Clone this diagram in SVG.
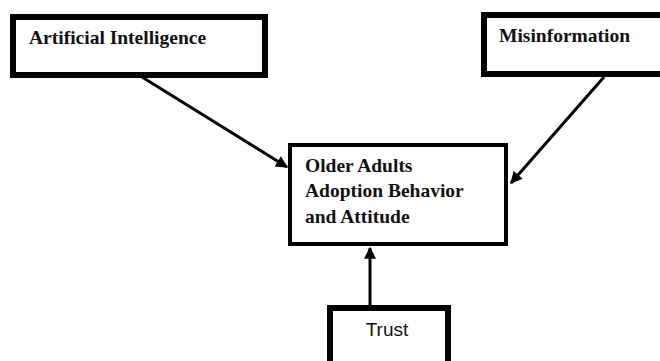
<svg xmlns="http://www.w3.org/2000/svg" width="660" height="361" viewBox="0 0 660 361">
<style>
.box{fill:#fff;stroke:#000}
.t{font-family:"Liberation Serif","Times New Roman",serif;font-weight:bold;font-size:19.5px;fill:#111}
.s{font-family:"Liberation Sans",Arial,sans-serif;font-size:19px;fill:#111}
.c{stroke:#000;stroke-width:3;fill:none;marker-end:url(#ah)}
</style>
<defs>
<marker id="ah" viewBox="0 0 10 10" refX="9" refY="5" markerWidth="4.5" markerHeight="4" orient="auto" markerUnits="strokeWidth">
<path d="M0,0 L10,5 L0,10 z" fill="#000"/>
</marker>
</defs>
<rect width="660" height="361" fill="#fff"/>
<g id="ai">
<rect class="box" x="13" y="17" width="252" height="58" stroke-width="6"/>
<text class="t" x="29" y="44">Artificial Intelligence</text>
</g>
<g id="misinfo">
<rect class="box" x="484" y="15" width="190" height="59" stroke-width="6"/>
<text class="t" x="499" y="42">Misinformation</text>
</g>
<g id="older">
<rect class="box" x="290" y="145" width="216" height="99" stroke-width="4"/>
<text class="t" x="305" y="172">Older Adults</text>
<text class="t" x="305" y="197">Adoption Behavior</text>
<text class="t" x="305" y="223">and Attitude</text>
</g>
<g id="trust">
<rect class="box" x="330" y="308" width="118" height="70" stroke-width="6"/>
<text class="s" x="387" y="336" text-anchor="middle">Trust</text>
</g>
<g id="connectors">
<line class="c" x1="142" y1="77" x2="287" y2="167"/>
<line class="c" x1="604" y1="77" x2="511" y2="183"/>
<line class="c" x1="370" y1="305" x2="370" y2="248"/>
</g>
</svg>
